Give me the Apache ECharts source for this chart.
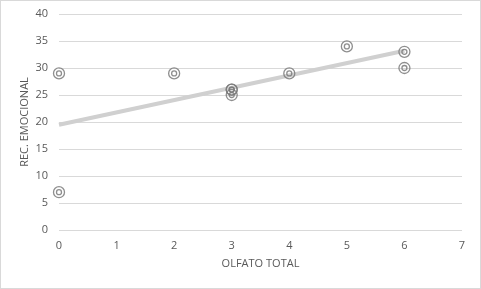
<!DOCTYPE html>
<html>
<head>
<meta charset="utf-8">
<script src="https://cdn.jsdelivr.net/npm/echarts@6/dist/echarts.min.js"></script>
<style>
  html, body { margin: 0; padding: 0; background: #fff; }
  #chart { width: 479px; height: 287px; border: 1px solid #d9d9d9; }
</style>
</head>
<body>
<div id="chart"></div>
<script>
const olfato = [0, 0, 2, 3, 3, 3, 4, 5, 6, 6];
const recEmocional = [29, 7, 29, 26, 26, 25, 29, 34, 33, 30];
const trendX = [0, 6];
const trendY = [19.5, 33.2];

const points = olfato.map((x, i) => [x, recEmocional[i]]);
const trend = trendX.map((x, i) => [x, trendY[i]]);

const labelFont = { color: "#595959", fontSize: 11, fontFamily: "Open Sans, sans-serif" };
const ringStyle = { color: "transparent", borderColor: "#7a7a7a", borderWidth: 1.3, opacity: 0.85 };

const chart = echarts.init(document.getElementById("chart"), undefined, { renderer: "canvas" });
chart.setOption({
  animation: false,
  grid: { left: 58, right: 18, top: 13, bottom: 58 },
  xAxis: {
    type: "value",
    min: 0,
    max: 7,
    interval: 1,
    name: "OLFATO TOTAL",
    nameLocation: "middle",
    nameGap: 28,
    nameMoveOverlap: false,
    nameTextStyle: labelFont,
    axisLine: { show: false },
    axisTick: { show: false },
    axisLabel: { ...labelFont, margin: 10 },
    splitLine: { show: false },
  },
  yAxis: {
    type: "value",
    min: 0,
    max: 40,
    interval: 5,
    name: "REC. EMOCIONAL",
    nameLocation: "middle",
    nameGap: 29,
    nameMoveOverlap: false,
    nameTextStyle: labelFont,
    axisLine: { show: false },
    axisTick: { show: false },
    axisLabel: { ...labelFont, margin: 11 },
    splitLine: { show: true, lineStyle: { color: "#d9d9d9", width: 1 } },
  },
  series: [
    {
      type: "line",
      data: trend,
      symbol: "none",
      lineStyle: { color: "#d0d0d0", width: 4 },
      z: 1,
    },
    {
      type: "scatter",
      data: points,
      symbol: "circle",
      symbolSize: 11,
      itemStyle: ringStyle,
      z: 3,
    },
    {
      type: "scatter",
      data: points,
      symbol: "circle",
      symbolSize: 5,
      itemStyle: ringStyle,
      z: 3,
    },
  ],
});
</script>
</body>
</html>
